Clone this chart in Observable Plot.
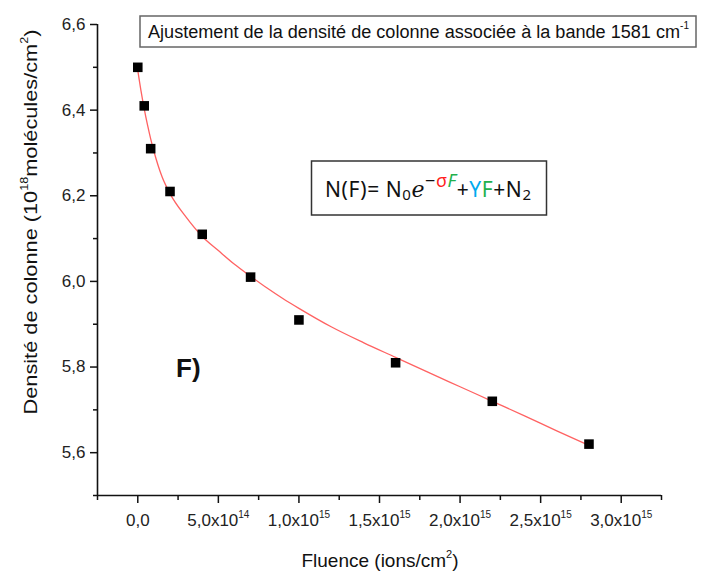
<!DOCTYPE html>
<html><head><meta charset="utf-8">
<script src="https://cdn.jsdelivr.net/npm/d3@7"></script>
<script src="https://cdn.jsdelivr.net/npm/@observablehq/plot@0.6"></script>
<style>
body{margin:0;background:#fff;}
#wrap{position:relative;width:710px;height:577px;overflow:hidden;background:#fff;}
</style></head>
<body><div id="wrap"></div>
<script>
// Fluence in units of 10^15 ions/cm^2, density in 10^18 molecules/cm^2
const fluence = [0, 0.04, 0.08, 0.2, 0.4, 0.7, 1.0, 1.6, 2.2, 2.8];
const density = [6.50, 6.41, 6.31, 6.21, 6.11, 6.01, 5.91, 5.81, 5.72, 5.62];

// fitted curve
const fitFluence = [0, 0.02, 0.04, 0.06, 0.08, 0.1, 0.15, 0.2, 0.3, 0.4, 0.5, 0.6, 0.7, 0.8, 0.9, 1.0, 1.2, 1.4, 1.6, 1.8, 2.0, 2.2, 2.4, 2.6, 2.8];
const fitDensity = [6.493, 6.445, 6.403, 6.366, 6.333, 6.304, 6.245, 6.205, 6.150, 6.105, 6.072, 6.040, 6.012, 5.985, 5.960, 5.937, 5.894, 5.857, 5.8225, 5.788, 5.754, 5.720, 5.686, 5.651, 5.617];

const xMajorTicks = [0, 0.5, 1.0, 1.5, 2.0, 2.5, 3.0];
const xTickLabels = ["0,0", "5,0x10^14", "1,0x10^15", "1,5x10^15", "2,0x10^15", "2,5x10^15", "3,0x10^15"];
const xMinorTicks = [-0.25, 0.25, 0.75, 1.25, 1.75, 2.25, 2.75, 3.25];
const yMajorTicks = [5.6, 5.8, 6.0, 6.2, 6.4, 6.6];
const yTickLabels = ["5,6", "5,8", "6,0", "6,2", "6,4", "6,6"];
const yMinorTicks = [5.5, 5.7, 5.9, 6.1, 6.3, 6.5];

const xDomain = [-0.25, 3.25];
const yDomain = [5.5, 6.6];

const points = fluence.map((f, i) => ({f, n: density[i]}));
const fit = fitFluence.map((f, i) => ({f, n: fitDensity[i]}));
const xLab = new Map(xMajorTicks.map((d, i) => [d, xTickLabels[i]]));
const yLab = new Map(yMajorTicks.map((d, i) => [d, yTickLabels[i]]));

const svg = Plot.plot({
  width: 710, height: 577,
  marginLeft: 97, marginRight: 49, marginTop: 24, marginBottom: 82,
  x: {domain: xDomain},
  y: {domain: yDomain},
  style: {fontFamily: "'Liberation Sans', Arial, sans-serif", fontSize: "17px", color: "#111", background: "white"},
  marks: [
    Plot.axisX({ticks: xMinorTicks, tickSize: 5, strokeWidth: 1.5, tickFormat: () => "", label: null}),
    Plot.axisX({ticks: xMajorTicks, tickSize: 8, tickPadding: 10, strokeWidth: 1.5, fill: "#222", tickFormat: d => xLab.get(d), label: null}),
    Plot.axisY({ticks: yMinorTicks, tickSize: 4, strokeWidth: 1.5, tickFormat: () => "", label: null}),
    Plot.axisY({ticks: yMajorTicks, tickSize: 7, tickPadding: 5, strokeWidth: 1.5, fill: "#222", tickFormat: d => yLab.get(d), label: null}),
    Plot.ruleY([yDomain[0]], {stroke: "#111", strokeWidth: 1.6}),
    Plot.ruleX([xDomain[0]], {stroke: "#111", strokeWidth: 1.6}),
    Plot.line(fit, {x: "f", y: "n", stroke: "#ff6262", strokeWidth: 1.3, curve: "monotone-x"}),
    Plot.dot(points, {x: "f", y: "n", symbol: "square", r: 5.4, fill: "black", stroke: "none"})
  ]
});
document.getElementById("wrap").appendChild(svg);

const s = d3.select(svg);
// superscripts in x tick labels
s.selectAll('g[aria-label="x-axis tick label"] text').each(function () {
  const t = d3.select(this);
  const str = t.text();
  if (str.includes("^")) {
    const [b, e] = str.split("^");
    t.text(null);
    t.append("tspan").text(b);
    t.append("tspan").attr("dy", -8).attr("font-size", 10).text(e);
  }
});

const font = "'Liberation Sans', Arial, sans-serif";
// x title
const xt = s.append("text").attr("x", 380).attr("y", 567).attr("text-anchor", "middle")
  .attr("font-family", font).attr("font-size", 19).attr("fill", "#111");
xt.append("tspan").text("Fluence (ions/cm");
xt.append("tspan").attr("dy", -9).attr("font-size", 11).text("2");
xt.append("tspan").attr("dy", 9).text(")");

// y title
const yt = s.append("text").attr("transform", "translate(37,222) rotate(-90)").attr("text-anchor", "middle")
  .attr("font-family", font).attr("font-size", 19).attr("fill", "#111")
  .attr("textLength", 385).attr("lengthAdjust", "spacingAndGlyphs");
yt.append("tspan").text("Densité de colonne (10");
yt.append("tspan").attr("dy", -9).attr("font-size", 11).text("18");
yt.append("tspan").attr("dy", 9).text("molécules/cm");
yt.append("tspan").attr("dy", -9).attr("font-size", 11).text("2");
yt.append("tspan").attr("dy", 9).text(")");

// title box
s.append("rect").attr("x", 140).attr("y", 16).attr("width", 556).attr("height", 31)
  .attr("fill", "white").attr("stroke", "#666").attr("stroke-width", 1.5);
const tt = s.append("text").attr("x", 148).attr("y", 38).attr("text-anchor", "start").attr("font-family", font).attr("font-size", 18)
  .attr("fill", "#111").attr("textLength", 541).attr("lengthAdjust", "spacingAndGlyphs");
tt.append("tspan").text("Ajustement de la densité de colonne associée à la bande 1581 cm");
tt.append("tspan").attr("dy", -9).attr("font-size", 10).text("-1");

// equation box
s.append("rect").attr("x", 311.5).attr("y", 161).attr("width", 235).attr("height", 54)
  .attr("fill", "white").attr("stroke", "#333").attr("stroke-width", 1.5);
const eq = s.append("text").attr("x", 325).attr("y", 197).attr("text-anchor", "start")
  .attr("font-family", "'Noto Sans', 'Liberation Sans', sans-serif")
  .attr("font-size", 21).attr("fill", "#111")
  .attr("textLength", 206).attr("lengthAdjust", "spacing");
eq.append("tspan").text("N(F)= N");
eq.append("tspan").attr("dy", 3).attr("font-size", 15).text("0");
eq.append("tspan").attr("dy", -3).attr("font-style", "italic").attr("font-family", "'DejaVu Serif', serif").attr("font-size", 22).text("e");
eq.append("tspan").attr("dy", -10).attr("font-size", 18).text("−");
eq.append("tspan").attr("font-size", 18).attr("fill", "#ff2020").text("σ");
eq.append("tspan").attr("font-size", 18).attr("fill", "#22b04c").attr("font-style", "italic").text("F");
eq.append("tspan").attr("dy", 10).text("+");
eq.append("tspan").attr("fill", "#00aaee").text("Y");
eq.append("tspan").attr("fill", "#22b04c").text("F");
eq.append("tspan").text("+N");
eq.append("tspan").attr("dy", 3).attr("font-size", 15).text("2");

// panel label
s.append("text").attr("x", 176).attr("y", 377).attr("text-anchor", "start").attr("font-family", font).attr("font-weight", "bold")
  .attr("font-size", 26).attr("fill", "#111").text("F)");
</script>
</body></html>
